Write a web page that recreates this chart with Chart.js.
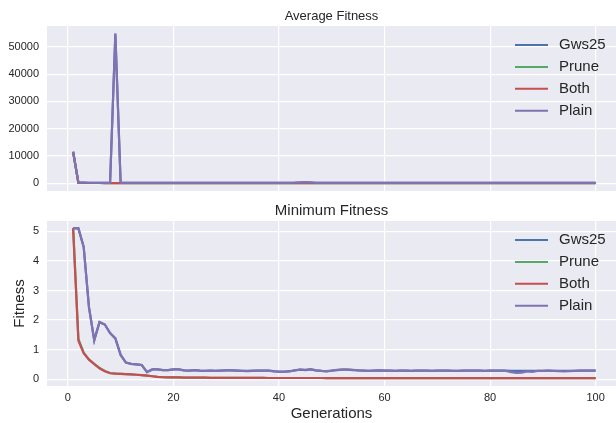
<!DOCTYPE html>
<html>
<head>
<meta charset="utf-8">
<script src="https://cdn.jsdelivr.net/npm/chart.js@4.4.1/dist/chart.umd.min.js"></script>
<style>
    html, body { margin: 0; padding: 0; background: #ffffff; }
    .wrap { position: relative; width: 616px; height: 423px; }
    #avgChart { position: absolute; left: 0; top: 0; }
    #minChart { position: absolute; left: 0; top: 200px; }
</style>
</head>
<body>
<div class="wrap">
    <canvas id="avgChart" width="616" height="200"></canvas>
    <canvas id="minChart" width="616" height="223"></canvas>
</div>
<script>
// Series names and colours (seaborn "deep")
const seriesNames = ['Gws25', 'Prune', 'Both', 'Plain'];
const seriesColors = ['#4C72B0', '#55A868', '#C44E52', '#8172B2'];

const generations = [
    1, 2, 3, 4, 5, 6, 7, 8, 9, 10, 11, 12, 13, 14, 15, 16, 17, 18, 19, 20,
    21, 22, 23, 24, 25, 26, 27, 28, 29, 30, 31, 32, 33, 34, 35, 36, 37, 38, 39, 40,
    41, 42, 43, 44, 45, 46, 47, 48, 49, 50, 51, 52, 53, 54, 55, 56, 57, 58, 59, 60,
    61, 62, 63, 64, 65, 66, 67, 68, 69, 70, 71, 72, 73, 74, 75, 76, 77, 78, 79, 80,
    81, 82, 83, 84, 85, 86, 87, 88, 89, 90, 91, 92, 93, 94, 95, 96, 97, 98, 99, 100
];

// Average fitness
const avgGws25 = [
    11400, 160, 140, 130, 125, 120, 115, 110, 54600, 140,
    115, 105, 100, 100, 95, 95, 90, 90, 90, 85,
    85, 85, 80, 80, 80, 80, 80, 75, 75, 75,
    75, 75, 75, 70, 70, 70, 70, 70, 70, 70,
    70, 80, 120, 200, 280, 220, 110, 80, 70, 70,
    70, 70, 70, 70, 70, 70, 70, 70, 70, 70,
    70, 70, 70, 70, 70, 70, 70, 70, 70, 70,
    70, 70, 70, 70, 70, 70, 70, 70, 70, 70,
    70, 70, 70, 70, 70, 70, 70, 70, 70, 70,
    70, 70, 70, 70, 70, 70, 70, 70, 70, 70
];
const avgPrune = [
    11500, 60, 45, 40, 35, 30, 28, 26, 25, 24,
    23, 22, 21, 20, 20, 19, 19, 18, 18, 18,
    17, 17, 17, 16, 16, 16, 16, 15, 15, 15,
    15, 15, 15, 15, 15, 15, 15, 15, 15, 15,
    15, 15, 15, 15, 15, 15, 15, 15, 15, 15,
    15, 15, 15, 15, 15, 15, 15, 15, 15, 15,
    15, 15, 15, 15, 15, 15, 15, 15, 15, 15,
    15, 15, 15, 15, 15, 15, 15, 15, 15, 15,
    15, 15, 15, 15, 15, 15, 15, 15, 15, 15,
    15, 15, 15, 15, 15, 15, 15, 15, 15, 15
];
const avgBoth = [
    11500, 55, 42, 38, 33, 29, 27, 25, 24, 23,
    22, 21, 20, 19, 19, 18, 18, 17, 17, 17,
    16, 16, 16, 15, 15, 15, 15, 14, 14, 14,
    14, 14, 14, 14, 14, 14, 14, 14, 14, 14,
    14, 14, 14, 14, 14, 14, 14, 14, 14, 14,
    14, 14, 14, 14, 14, 14, 14, 14, 14, 14,
    14, 14, 14, 14, 14, 14, 14, 14, 14, 14,
    14, 14, 14, 14, 14, 14, 14, 14, 14, 14,
    14, 14, 14, 14, 14, 14, 14, 14, 14, 14,
    14, 14, 14, 14, 14, 14, 14, 14, 14, 14
];
const avgPlain = [
    11500, 150, 140, 130, 120, 120, 110, 110, 55000, 130,
    110, 100, 100, 95, 95, 90, 90, 90, 85, 85,
    85, 80, 80, 80, 80, 80, 75, 75, 75, 75,
    75, 75, 70, 70, 70, 70, 70, 70, 70, 70,
    70, 90, 150, 260, 330, 250, 120, 80, 70, 70,
    70, 70, 70, 70, 70, 70, 70, 70, 70, 70,
    70, 70, 70, 70, 70, 70, 70, 70, 70, 70,
    70, 70, 70, 70, 70, 70, 70, 70, 70, 70,
    70, 70, 70, 70, 70, 70, 70, 70, 70, 70,
    70, 70, 70, 70, 70, 70, 70, 70, 70, 70
];

// Minimum fitness
const minGws25 = [
    5.11, 5.10, 4.47, 2.44, 1.32, 1.93, 1.85, 1.56, 1.38, 0.82,
    0.56, 0.52, 0.50, 0.48, 0.24, 0.33, 0.33, 0.31, 0.31, 0.33,
    0.33, 0.30, 0.29, 0.31, 0.29, 0.28, 0.29, 0.28, 0.29, 0.30,
    0.30, 0.29, 0.28, 0.27, 0.28, 0.29, 0.29, 0.29, 0.27, 0.26,
    0.26, 0.27, 0.30, 0.32, 0.31, 0.33, 0.30, 0.28, 0.26, 0.29,
    0.31, 0.32, 0.32, 0.31, 0.30, 0.29, 0.28, 0.29, 0.30, 0.29,
    0.29, 0.28, 0.29, 0.29, 0.28, 0.29, 0.29, 0.29, 0.28, 0.29,
    0.29, 0.29, 0.28, 0.28, 0.29, 0.29, 0.29, 0.29, 0.28, 0.29,
    0.29, 0.29, 0.29, 0.28, 0.28, 0.28, 0.28, 0.28, 0.28, 0.28,
    0.29, 0.28, 0.28, 0.28, 0.28, 0.28, 0.29, 0.29, 0.29, 0.29
];
const minPrune = [
    5.11, 1.36, 0.90, 0.67, 0.52, 0.38, 0.28, 0.21, 0.19, 0.18,
    0.17, 0.16, 0.15, 0.14, 0.12, 0.10, 0.08, 0.07, 0.065, 0.06,
    0.06, 0.055, 0.055, 0.05, 0.05, 0.05, 0.048, 0.046, 0.045, 0.045,
    0.044, 0.044, 0.043, 0.043, 0.042, 0.042, 0.042, 0.041, 0.041, 0.041,
    0.040, 0.040, 0.040, 0.040, 0.040, 0.040, 0.040, 0.040, 0.039, 0.039,
    0.039, 0.039, 0.039, 0.039, 0.039, 0.038, 0.038, 0.038, 0.038, 0.038,
    0.038, 0.038, 0.038, 0.037, 0.037, 0.037, 0.037, 0.037, 0.037, 0.037,
    0.037, 0.037, 0.036, 0.036, 0.036, 0.036, 0.036, 0.036, 0.036, 0.036,
    0.036, 0.036, 0.036, 0.035, 0.035, 0.035, 0.035, 0.035, 0.035, 0.035,
    0.035, 0.035, 0.035, 0.035, 0.035, 0.035, 0.035, 0.035, 0.035, 0.035
];
const minBoth = [
    5.11, 1.30, 0.88, 0.66, 0.51, 0.37, 0.27, 0.20, 0.19, 0.18,
    0.17, 0.16, 0.15, 0.14, 0.12, 0.10, 0.08, 0.07, 0.065, 0.06,
    0.06, 0.055, 0.055, 0.05, 0.05, 0.05, 0.048, 0.046, 0.045, 0.045,
    0.044, 0.044, 0.043, 0.043, 0.042, 0.042, 0.042, 0.041, 0.041, 0.041,
    0.040, 0.040, 0.040, 0.040, 0.040, 0.040, 0.040, 0.040, 0.039, 0.039,
    0.039, 0.039, 0.039, 0.039, 0.039, 0.038, 0.038, 0.038, 0.038, 0.038,
    0.038, 0.038, 0.038, 0.037, 0.037, 0.037, 0.037, 0.037, 0.037, 0.037,
    0.037, 0.037, 0.036, 0.036, 0.036, 0.036, 0.036, 0.036, 0.036, 0.036,
    0.036, 0.036, 0.036, 0.035, 0.035, 0.035, 0.035, 0.035, 0.035, 0.035,
    0.035, 0.035, 0.035, 0.035, 0.035, 0.035, 0.035, 0.035, 0.035, 0.035
];
const minPlain = [
    5.11, 5.10, 4.47, 2.44, 1.32, 1.93, 1.85, 1.56, 1.38, 0.82,
    0.56, 0.52, 0.50, 0.48, 0.24, 0.33, 0.33, 0.31, 0.31, 0.33,
    0.33, 0.30, 0.29, 0.31, 0.29, 0.28, 0.29, 0.28, 0.29, 0.30,
    0.30, 0.29, 0.28, 0.28, 0.29, 0.29, 0.29, 0.29, 0.26, 0.25,
    0.25, 0.26, 0.30, 0.33, 0.32, 0.34, 0.30, 0.28, 0.27, 0.29,
    0.32, 0.33, 0.33, 0.32, 0.30, 0.29, 0.28, 0.29, 0.30, 0.29,
    0.29, 0.28, 0.29, 0.29, 0.28, 0.29, 0.29, 0.29, 0.28, 0.29,
    0.29, 0.29, 0.28, 0.28, 0.29, 0.29, 0.29, 0.29, 0.28, 0.29,
    0.29, 0.29, 0.28, 0.24, 0.21, 0.22, 0.26, 0.25, 0.28, 0.28,
    0.29, 0.28, 0.27, 0.26, 0.27, 0.28, 0.29, 0.29, 0.29, 0.29
];

// Axis ticks
const genTicks = [0, 20, 40, 60, 80, 100];
const avgTicks = [0, 10000, 20000, 30000, 40000, 50000];
const minTicks = [0, 1, 2, 3, 4, 5];

const fontFamily = '"Liberation Sans", Arial, sans-serif';
const textColor = '#262626';
Chart.defaults.font.family = fontFamily;
Chart.defaults.color = textColor;

// Grey plot background like seaborn darkgrid
const panelBackground = {
    id: 'panelBackground',
    beforeDraw(chart) {
        const { ctx, chartArea: a } = chart;
        ctx.save();
        ctx.fillStyle = '#EAEAF2';
        ctx.fillRect(a.left, a.top, a.right - a.left, a.bottom - a.top);
        ctx.restore();
    }
};

// Legend drawn inside the plot, top right
const innerLegend = {
    id: 'innerLegend',
    afterDatasetsDraw(chart, args, opts) {
        const ctx = chart.ctx;
        ctx.save();
        ctx.font = '15px ' + fontFamily;
        ctx.textBaseline = 'middle';
        ctx.textAlign = 'left';
        seriesNames.forEach((name, i) => {
            const y = opts.top + i * 21.9;
            ctx.strokeStyle = seriesColors[i];
            ctx.lineWidth = 2;
            ctx.beginPath();
            ctx.moveTo(515, y);
            ctx.lineTo(548, y);
            ctx.stroke();
            ctx.fillStyle = textColor;
            ctx.fillText(name, 559, y);
        });
        ctx.restore();
    }
};

function makeDatasets(values) {
    return seriesNames.map((name, i) => ({
        label: name,
        data: generations.map((g, j) => ({ x: g, y: values[i][j] })),
        borderColor: seriesColors[i],
        backgroundColor: seriesColors[i],
        borderWidth: 2.2,
        pointRadius: 0,
        tension: 0,
        order: seriesNames.length - i
    }));
}

function xAxis(showLabels) {
    return {
        type: 'linear',
        min: -3.95,
        max: 103.85,
        afterBuildTicks: s => { s.ticks = genTicks.map(v => ({ value: v })); },
        afterFit: s => {
            s.height = showLabels ? 37 : 9;
            s.paddingLeft = 0;
            s.paddingRight = 0;
        },
        ticks: { display: showLabels, padding: 5, maxRotation: 0, font: { size: 11 }, color: textColor, callback: v => String(v) },
        grid: { color: '#FFFFFF', lineWidth: 1.2, drawTicks: false },
        border: { display: false },
        title: {
            display: showLabels,
            text: 'Generations',
            font: { size: 15 },
            color: textColor,
            padding: { top: 0, bottom: 0 }
        }
    };
}

function yAxis(min, max, tickValues, title) {
    return {
        type: 'linear',
        min: min,
        max: max,
        afterBuildTicks: s => { s.ticks = tickValues.map(v => ({ value: v })); },
        afterFit: s => {
            s.width = 47;
            s.paddingTop = 0;
            s.paddingBottom = 0;
        },
        ticks: { padding: 8, font: { size: 11 }, color: textColor, callback: v => String(v) },
        grid: { color: '#FFFFFF', lineWidth: 1.2, drawTicks: false },
        border: { display: false },
        title: {
            display: !!title,
            text: title || '',
            font: { size: 15 },
            color: textColor,
            padding: { top: 11, bottom: 0 }
        }
    };
}

new Chart(document.getElementById('avgChart'), {
    type: 'line',
    data: { datasets: makeDatasets([avgGws25, avgPrune, avgBoth, avgPlain]) },
    options: {
        responsive: false,
        animation: false,
        layout: { padding: 0 },
        scales: {
            x: xAxis(false),
            y: yAxis(-2900, 57700, avgTicks, null)
        },
        plugins: {
            legend: { display: false },
            tooltip: { enabled: false },
            title: {
                display: true,
                text: 'Average Fitness',
                fullSize: false,
                font: { size: 13, weight: 'normal' },
                color: textColor,
                padding: { top: 8.5, bottom: 1.9 }
            },
            innerLegend: { top: 45 }
        }
    },
    plugins: [panelBackground, innerLegend]
});

new Chart(document.getElementById('minChart'), {
    type: 'line',
    data: { datasets: makeDatasets([minGws25, minPrune, minBoth, minPlain]) },
    options: {
        responsive: false,
        animation: false,
        layout: { padding: 0 },
        scales: {
            x: xAxis(true),
            y: yAxis(-0.23, 5.35, minTicks, 'Fitness')
        },
        plugins: {
            legend: { display: false },
            tooltip: { enabled: false },
            title: {
                display: true,
                text: 'Minimum Fitness',
                fullSize: false,
                font: { size: 15, weight: 'normal' },
                color: textColor,
                padding: { top: 1.5, bottom: 1.5 }
            },
            innerLegend: { top: 40 }
        }
    },
    plugins: [panelBackground, innerLegend]
});
</script>
</body>
</html>
